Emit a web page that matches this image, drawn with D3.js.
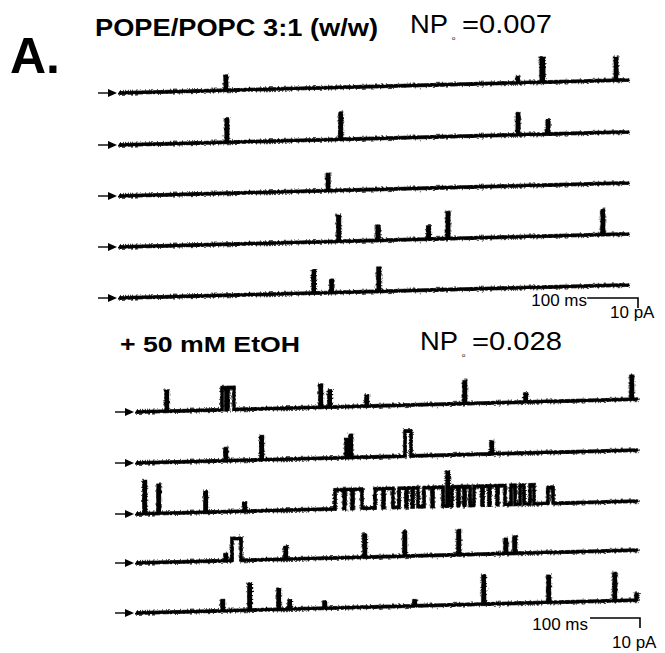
<!DOCTYPE html>
<html><head><meta charset="utf-8">
<script src="https://cdn.jsdelivr.net/npm/d3@7"></script>
<style>
body{margin:0;background:#fff}
svg{display:block}
text{font-family:"Liberation Sans",Arial,Helvetica,sans-serif;fill:#000}
</style>
</head><body>
<svg id="fig" width="665" height="653"></svg>
<script>
// Panel labels and open probabilities
const panelLetter = "A.";
const conditionLabels = ["POPE/POPC 3:1 (w/w)", "+ 50 mM EtOH"];
const npoValues = ["0.007", "0.028"];

// Sweep length and scale bars
const sweepMs = 1000;
const scaleBarMs = 100;
const scaleBarPa = 10;
const scaleBarLabels = ["100 ms", "10 pA"];

// Channel openings per sweep: [start ms, duration ms, amplitude pA]
const controlSweep1 = [[207,3,14],[782,2,5],[829,5,24],[975,3,22]];
const controlSweep2 = [[209,3,23],[433,3,26],[782,3,21],[841,3,13]];
const controlSweep3 = [[408,3,16]];
const controlSweep4 = [[429,3,25],[506,4,14],[606,3,12],[644,3,26],[949,3,24]];
const controlSweep5 = [[380,3,22],[415,3,12],[508,3,23]];

const ethanolSweep1 = [[58,3,20],[170,8,22],[182,12,22],[366,3,22],[384,3,16],[458,3,10],
  [654,3,22],[776,3,8],[988,3,23]];
const ethanolSweep2 = [[176,3,12],[248,3,23],[418,3,18],[426,3,22],[536,12,25],[708,3,12]];
const ethanolSweep3 = [[14,3,32],[42,3,28],[136,3,20],[214,3,8],
  [396,18,19],[416,14,19],[432,18,19],[476,16,19],[494,18,19],[524,14,19],[540,10,19],
  [552,10,19],[574,16,19],[592,20,19],[620,3,34],[630,12,19],[644,10,19],[656,10,19],
  [674,16,19],[692,12,19],[706,14,19],[722,14,19],[748,8,19],[766,8,19],[786,8,19],[822,10,16]];
const ethanolSweep4 = [[176,3,6],[190,18,22],[296,3,12],[454,3,22],[534,3,24],[642,3,24],
  [736,3,14],[754,3,16]];
const ethanolSweep5 = [[170,3,10],[224,3,26],[282,3,20],[304,3,8],[374,3,6],[554,3,5],
  [692,3,28],[822,3,26],[954,3,27],[998,2,6]];

const controlSweeps = [controlSweep1, controlSweep2, controlSweep3, controlSweep4, controlSweep5];
const ethanolSweeps = [ethanolSweep1, ethanolSweep2, ethanolSweep3, ethanolSweep4, ethanolSweep5];

const svg = d3.select("#fig");

// Rough edge for the recorded current traces
const defs = svg.append("defs");
const f = defs.append("filter").attr("id", "noise").attr("x", "-5%").attr("y", "-50%")
  .attr("width", "110%").attr("height", "200%");
f.append("feTurbulence").attr("type", "fractalNoise").attr("baseFrequency", "0.45 0.9")
  .attr("numOctaves", 2).attr("seed", 7).attr("result", "t");
f.append("feDisplacementMap").attr("in", "SourceGraphic").attr("in2", "t")
  .attr("scale", 5).attr("xChannelSelector", "R").attr("yChannelSelector", "G");

// current scale: pA -> px (upward positive)
const y = d3.scaleLinear().domain([0, scaleBarPa]).range([0, -10]);
const drift = -1.47; // degrees of baseline drift across a sweep

function sweepPoints(events) {
  const pts = [[0, 0]];
  events.slice().sort((a, b) => a[0] - b[0]).forEach(([t, d, a]) => {
    pts.push([t, 0], [t, a], [t + d, a], [t + d, 0]);
  });
  pts.push([sweepMs, 0]);
  return pts;
}

function drawGroup(sweeps, x0, width, baselines) {
  const x = d3.scaleLinear().domain([0, sweepMs]).range([0, width]);
  const line = d3.line().x(d => x(d[0])).y(d => y(d[1]));
  sweeps.forEach((ev, i) => {
    const yb = baselines[i];
    // arrow marking the closed level
    const ag = svg.append("g").attr("transform", `translate(${x0 - 22},${yb})`);
    ag.append("line").attr("x1", 0).attr("x2", 12).attr("y1", 0).attr("y2", 0)
      .attr("stroke", "#000").attr("stroke-width", 1.4);
    ag.append("path").attr("d", "M10,-4 L19,0 L10,4 Z").attr("fill", "#000");
    const g = svg.append("g").attr("transform", `translate(${x0},${yb}) skewY(${drift})`);
    const d = line(sweepPoints(ev));
    g.append("path").attr("d", d)
      .attr("fill", "none").attr("stroke", "#000").attr("stroke-width", 2.8)
      .attr("stroke-linejoin", "miter").attr("stroke-linecap", "round");
    g.append("path").attr("d", d)
      .attr("fill", "none").attr("stroke", "#000").attr("stroke-width", 3.4)
      .attr("stroke-linejoin", "miter").attr("stroke-linecap", "round")
      .attr("filter", "url(#noise)");
  });
  return x;
}

function scaleBar(x, right, top, msEnd, msBase, paX, paBase) {
  const w = x(scaleBarMs);
  svg.append("path")
    .attr("d", `M${right - w},${top} H${right} V${top - y(scaleBarPa)}`)
    .attr("fill", "none").attr("stroke", "#000").attr("stroke-width", 1.6);
  svg.append("text").attr("x", msEnd).attr("y", msBase).attr("text-anchor", "end")
    .attr("font-size", 17).text(scaleBarLabels[0]);
  svg.append("text").attr("x", paX).attr("y", paBase)
    .attr("font-size", 17).text(scaleBarLabels[1]);
}

function npoLabel(xp, yp, value) {
  svg.append("text").attr("x", xp).attr("y", yp).attr("font-size", 25)
    .attr("textLength", 38).attr("lengthAdjust", "spacingAndGlyphs").text("NP");
  svg.append("text").attr("x", xp + 42).attr("y", yp + 7).attr("font-size", 6).text("o");
  svg.append("text").attr("x", xp + 52).attr("y", yp).attr("font-size", 25)
    .attr("textLength", 90).attr("lengthAdjust", "spacingAndGlyphs").text("=" + value);
}

// header
svg.append("text").attr("x", 10).attr("y", 73).attr("font-size", 50)
  .attr("font-weight", "bold").text(panelLetter);
svg.append("text").attr("x", 95).attr("y", 36).attr("font-size", 24)
  .attr("font-weight", "bold").attr("textLength", 283).attr("lengthAdjust", "spacingAndGlyphs")
  .text(conditionLabels[0]);
npoLabel(410, 33, npoValues[0]);

const xTop = drawGroup(controlSweeps, 120, 508, [93, 145, 196, 247, 298]);
scaleBar(xTop, 638, 298, 587, 306, 610, 318);

svg.append("text").attr("x", 120).attr("y", 352).attr("font-size", 22)
  .attr("font-weight", "bold").attr("textLength", 180).attr("lengthAdjust", "spacingAndGlyphs")
  .text(conditionLabels[1]);
npoLabel(420, 350, npoValues[1]);

const xBot = drawGroup(ethanolSweeps, 137, 500, [412, 463, 514, 563, 613]);
scaleBar(xBot, 640, 618, 588, 630, 612, 648);
</script>
</body></html>
